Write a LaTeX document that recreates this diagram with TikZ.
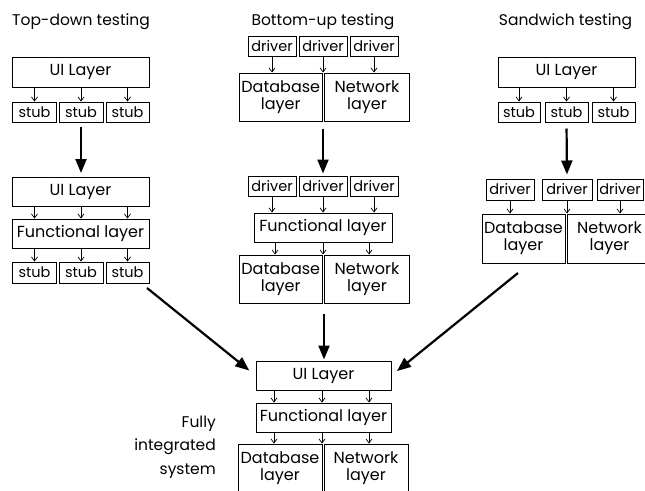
\documentclass[tikz,border=0pt]{standalone}
\usepackage{fontspec}
\setmainfont{Poppins}
\usetikzlibrary{arrows.meta,calc}
\tikzset{
  lay/.style={draw, line width=1pt, inner sep=0pt, align=center, font=\fontsize{16}{17}\selectfont},
  small/.style={draw, line width=1pt, inner sep=0pt, font=\fontsize{14.5}{15}\selectfont},
  ttl/.style={inner sep=0pt, font=\fontsize{15.5}{16}\selectfont},
  sarr/.style={line width=0.7pt, -{Straight Barb[length=4pt,width=6pt]}},
  bigarr/.style={line width=2.2pt, -{Triangle[length=14pt,width=11pt]}},
}
\begin{document}
\begin{tikzpicture}[x=1pt,y=-1pt]
\useasboundingbox (0,0) rectangle (645,490);
\clip (0,0) rectangle (645,490);
% ---------- Top-down ----------
\node[ttl, anchor=base west] (t1) at (12,25) {Top-down testing};
\node[lay, minimum width=137pt, minimum height=30pt] (ui1) at (80.5,72) {UI Layer};
\node[small, minimum width=44pt, minimum height=20pt] (s11) at (34.5,112) {stub};
\node[small, minimum width=44pt, minimum height=20pt] (s12) at (81,112) {stub};
\node[small, minimum width=43pt, minimum height=20pt] (s13) at (127.5,112) {stub};
\foreach \s in {s11,s12,s13} \draw[sarr] (ui1.south -| \s.north) -- (\s.north);
\node[lay, minimum width=137pt, minimum height=29pt] (ui2) at (80.5,192) {UI Layer};
\draw[bigarr, shorten <=4pt, shorten >=4pt] (s12.south) -- (s12.south |- ui2.north);
\node[lay, minimum width=137pt, minimum height=29pt] (f1) at (80.5,233.5) {Functional layer};
\node[small, minimum width=44pt, minimum height=21pt] (s21) at (34.5,272.5) {stub};
\node[small, minimum width=44pt, minimum height=21pt] (s22) at (81,272.5) {stub};
\node[small, minimum width=43pt, minimum height=21pt] (s23) at (127.5,272.5) {stub};
\foreach \s in {s21,s22,s23} {
  \draw[sarr] (ui2.south -| \s.north) -- (f1.north -| \s.north);
  \draw[sarr] (f1.south -| \s.north) -- (\s.north);
}
% ---------- Bottom-up ----------
\node[ttl, anchor=base] (t2) at (323,25) {Bottom-up testing};
\node[small, minimum width=48pt, minimum height=20pt] (d11) at (272,46) {driver};
\node[small, minimum width=48pt, minimum height=20pt] (d12) at (323,46) {driver};
\node[small, minimum width=48pt, minimum height=20pt] (d13) at (374,46) {driver};
\node[lay, minimum width=83.5pt, minimum height=48pt] (db1) at (280.75,97) {Database\\layer};
\node[lay, minimum width=85pt, minimum height=48pt] (n1) at (367,97) {Network\\layer};
\foreach \d in {d11,d12,d13} \draw[sarr] (\d.south) -- (\d.south |- db1.north);
\node[small, minimum width=48pt, minimum height=20pt] (d21) at (272,186) {driver};
\node[small, minimum width=48pt, minimum height=20pt] (d22) at (323,186) {driver};
\node[small, minimum width=48pt, minimum height=20pt] (d23) at (374,186) {driver};
\draw[bigarr, shorten <=7pt, shorten >=2pt] (db1.south -| d22.north) -- (d22.north);
\node[lay, minimum width=138pt, minimum height=29pt] (f2) at (323,227.5) {Functional layer};
\foreach \d in {d21,d22,d23} \draw[sarr] (\d.south) -- (\d.south |- f2.north);
\node[lay, minimum width=83.5pt, minimum height=48pt] (db2) at (280.75,279) {Database\\layer};
\node[lay, minimum width=85pt, minimum height=48pt] (n2) at (367,279) {Network\\layer};
\foreach \x in {275,323,369} \draw[sarr] (f2.south -| \x,0) -- (db2.north -| \x,0);
% ---------- Sandwich ----------
\node[ttl, anchor=base] (t3) at (565.5,25) {Sandwich testing};
\node[lay, minimum width=137pt, minimum height=30pt] (ui3) at (566.5,72) {UI Layer};
\node[small, minimum width=42pt, minimum height=20pt] (s31) at (519,112) {stub};
\node[small, minimum width=43pt, minimum height=20pt] (s32) at (566.5,112) {stub};
\node[small, minimum width=43pt, minimum height=20pt] (s33) at (613.5,112) {stub};
\foreach \s in {s31,s32,s33} \draw[sarr] (ui3.south -| \s.north) -- (\s.north);
\node[small, minimum width=48pt, minimum height=21pt] (d31) at (510,189.5) {driver};
\node[small, minimum width=50pt, minimum height=21pt] (d32) at (567,189.5) {driver};
\node[small, minimum width=46pt, minimum height=21pt] (d33) at (620,189.5) {driver};
\draw[bigarr, shorten <=6pt, shorten >=4pt] (s32.south) -- (d32.north);
\node[lay, minimum width=83pt, minimum height=49pt] (db3) at (523.5,238.5) {Database\\layer};
\node[lay, minimum width=85pt, minimum height=49pt] (n3) at (609.5,238.5) {Network\\layer};
\foreach \d in {d31,d32,d33} \draw[sarr] (\d.south) -- (\d.south |- db3.north);
% ---------- Fully integrated ----------
\node[lay, minimum width=135pt, minimum height=29pt] (ui4) at (323.5,375.5) {UI Layer};
\node[lay, minimum width=135pt, minimum height=29pt] (f4) at (323.5,417.5) {Functional layer};
\node[lay, minimum width=84pt, minimum height=48pt] (db4) at (280,468) {Database\\layer};
\node[lay, minimum width=84pt, minimum height=48pt] (n4) at (366,468) {Network\\layer};
\foreach \x in {274,322,369} {
  \draw[sarr] (ui4.south -| \x,0) -- (f4.north -| \x,0);
  \draw[sarr] (f4.south -| \x,0) -- (db4.north -| \x,0);
}
\draw[bigarr, shorten <=10pt, shorten >=1pt] (db2.south east) ++(1,0) coordinate (mid2) (mid2) -- (mid2 |- ui4.north);
\coordinate (lstart) at (147,288);
\coordinate (rstart) at (518,273);
\draw[bigarr, shorten >=8pt] (lstart) -- (ui4.west);
\draw[bigarr, shorten >=7pt] (rstart) -- (ui4.east);
\node[ttl, anchor=base east] (fi1) at (216,427) {Fully};
\node[ttl, anchor=base east] (fi2) at (216,450) {integrated};
\node[ttl, anchor=base east] (fi3) at (216,474) {system};
\end{tikzpicture}
\end{document}
